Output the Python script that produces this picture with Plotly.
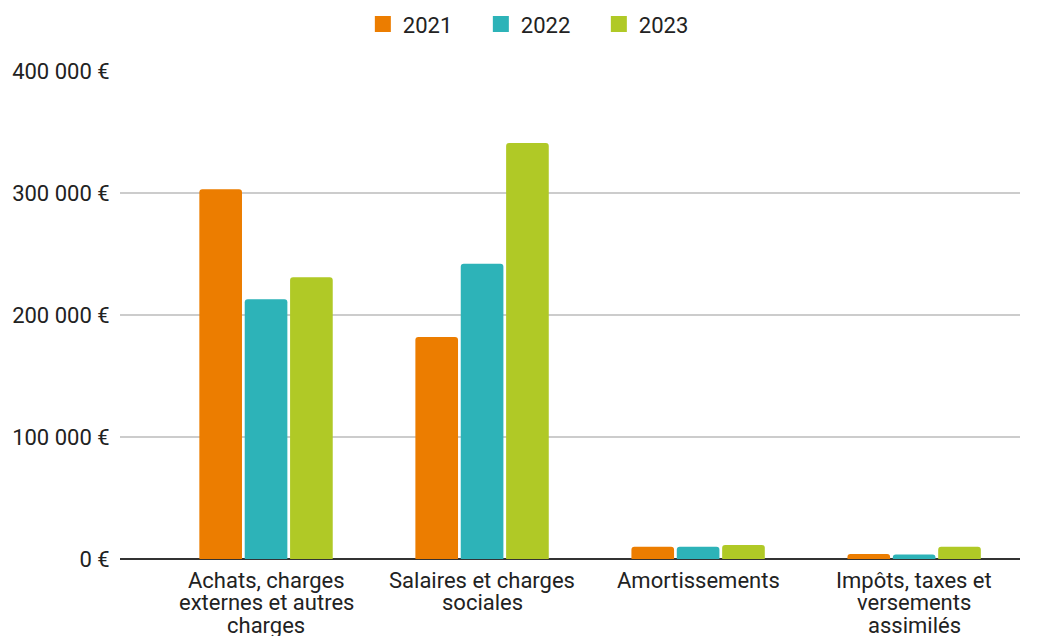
import plotly.graph_objects as go

categories = ["Achats, charges<br>externes et autres<br>charges",
              "Salaires et charges<br>sociales",
              "Amortissements",
              "Impôts, taxes et<br>versements<br>assimilés"]
years = ["2021", "2022", "2023"]
v2021 = [303000, 182000, 10000, 4000]
v2022 = [213000, 242000, 10000, 3700]
v2023 = [231000, 341000, 11500, 10000]
tick_vals = [0, 100000, 200000, 300000, 400000]
tick_text = ["0 €", "100 000 €", "200 000 €", "300 000 €", "400 000 €"]

colors = ["#EC7D00", "#2DB3B8", "#B0C926"]
series = [v2021, v2022, v2023]
xs = list(range(len(categories)))

fig = go.Figure()
for name, vals, c in zip(years, series, colors):
    fig.add_trace(go.Bar(x=xs, y=vals, name=name, showlegend=False,
                         marker=dict(color=c, line=dict(width=0))))
# legend entries with larger square swatches
for name, c in zip(years, colors):
    fig.add_trace(go.Scatter(x=[None], y=[None], name=name, mode="markers",
                             marker=dict(symbol="square", size=22, color=c)))

# category labels, one annotation per line for tight line spacing
for i, cat in enumerate(categories):
    for k, line in enumerate(cat.split("<br>")):
        fig.add_annotation(x=i, xref="x", y=0, yref="paper", text=line,
                           showarrow=False, yanchor="middle", xanchor="center",
                           yshift=-21 - 22.5 * k, height=25, borderpad=0,
                           font=dict(family="Roboto", size=22, color="#222222"))

fig.update_layout(
    width=1049, height=636,
    margin=dict(l=112, r=37, t=63, b=85, autoexpand=False),
    paper_bgcolor="white", plot_bgcolor="white",
    font=dict(family="Roboto", size=22, color="#222222"),
    barmode="group", bargap=0.37, bargroupgap=0.06,
    barcornerradius=3,
    legend=dict(orientation="h", x=0.4665, xanchor="center",
                y=1.096, yanchor="middle", font=dict(size=22, color="#222222"),
                traceorder="normal", itemsizing="trace", entrywidth=73),
    xaxis=dict(range=[-0.676, 3.49], tickmode="array",
               tickvals=xs, ticktext=[""] * len(xs),
               showgrid=False, showline=False, zeroline=False, ticks=""),
    yaxis=dict(range=[0, 400000], tickmode="array", tickvals=tick_vals, ticktext=tick_text,
               showgrid=True, gridcolor="#cccccc", gridwidth=1.5,
               zeroline=True, zerolinecolor="#333333", zerolinewidth=1.5,
               ticks="outside", ticklen=5, tickcolor="rgba(0,0,0,0)",
               showline=False, automargin=False,
               tickfont=dict(size=22, color="#222222")),
)

fig.write_html("out.html")
